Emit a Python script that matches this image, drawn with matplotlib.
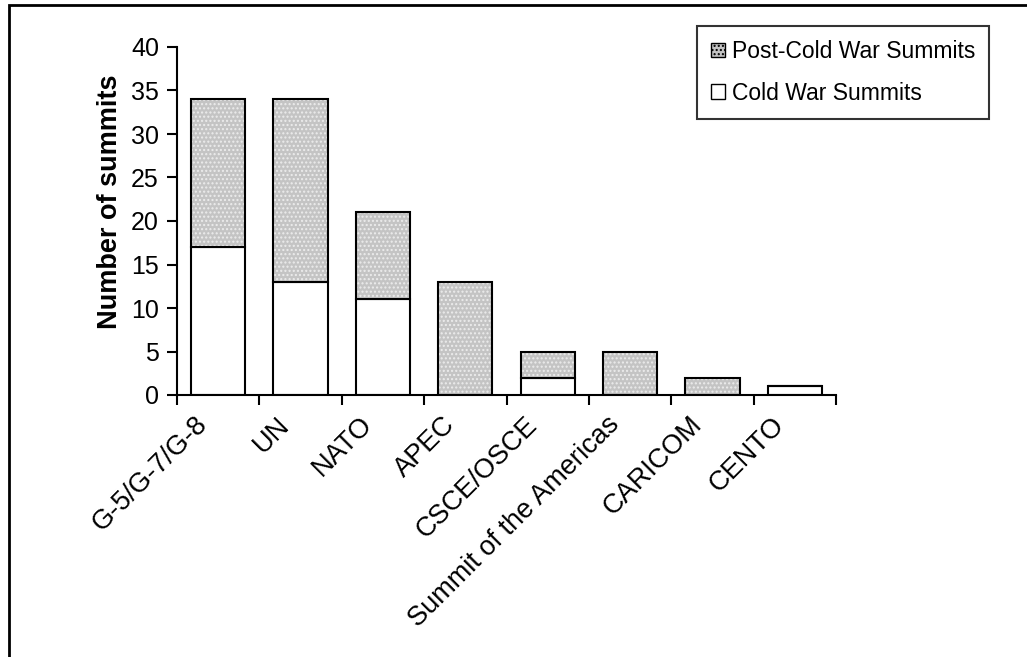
import matplotlib
matplotlib.use('Agg')
import matplotlib.pyplot as plt
import matplotlib.transforms as mtransforms
from matplotlib.patches import Rectangle
import numpy as np

categories = ['G-5/G-7/G-8', 'UN', 'NATO', 'APEC', 'CSCE/OSCE',
              'Summit of the Americas', 'CARICOM', 'CENTO']
cold_war = [17, 13, 11, 0, 2, 0, 0, 1]
post_cold_war = [17, 21, 10, 13, 3, 5, 2, 0]
yticks = [0, 5, 10, 15, 20, 25, 30, 35, 40]

def main():
    plt.rcParams['font.family'] = ['Liberation Sans', 'DejaVu Sans']
    fig = plt.figure(figsize=(10.27, 6.57), dpi=100)
    ax = fig.add_axes([177/1027, 1 - 395/657, (836 - 177)/1027, (395 - 47)/657])

    x = np.arange(len(categories))
    w = 0.66
    bottom = np.array(cold_war)

    ax.bar(x, cold_war, w, color='white', edgecolor='black', lw=1.5, zorder=2)
    ax.bar(x, post_cold_war, w, bottom=bottom, color='#c4c4c4',
           edgecolor='#ececec', hatch='....', lw=0, zorder=2)
    ax.bar(x, post_cold_war, w, bottom=bottom, fill=False,
           edgecolor='black', lw=1.5, zorder=3)

    # legend proxies
    p1 = Rectangle((0, 0), 1, 1, facecolor='#c4c4c4', edgecolor='black', hatch='....', lw=1)
    p2 = Rectangle((0, 0), 1, 1, facecolor='white', edgecolor='black', lw=1)
    leg = ax.legend([p1, p2], ['Post-Cold War Summits', 'Cold War Summits'],
                    loc='upper left', bbox_to_anchor=(697/1027, 1 - 26/657),
                    bbox_transform=fig.transFigure, fontsize=16.5,
                    frameon=True, fancybox=False, handlelength=0.6,
                    handleheight=0.6, handletextpad=0.3, borderpad=0.62,
                    labelspacing=0.8, borderaxespad=0)
    leg.get_frame().set_edgecolor('black')
    leg.get_frame().set_linewidth(1.5)

    ax.set_xlim(-0.5, len(categories) - 0.5)
    ax.set_ylim(0, 40)
    ax.set_yticks(yticks)
    ax.set_xticks(np.arange(len(categories) + 1) - 0.5)
    ax.set_xticklabels([])
    ax.set_xticks(x, minor=True)
    ax.set_xticklabels(categories, minor=True, rotation=45, ha='right',
                       rotation_mode='anchor', fontsize=19.5)
    ax.tick_params(axis='x', which='minor', length=0, pad=12)
    ax.tick_params(axis='x', which='major', direction='out', length=7, width=1.5)
    ax.tick_params(axis='y', direction='out', length=7, width=1.5, labelsize=18, pad=6)

    shift = mtransforms.ScaledTranslation(-17/72, 0, fig.dpi_scale_trans)
    for lab in ax.get_xticklabels(minor=True):
        lab.set_transform(lab.get_transform() + shift)

    for s in ['top', 'right']:
        ax.spines[s].set_visible(False)
    for s in ['left', 'bottom']:
        ax.spines[s].set_linewidth(1.5)

    ax.set_ylabel('Number of summits', fontsize=19.5, fontweight='bold')
    ax.yaxis.set_label_coords(-0.082, 0.555)

    # outer frame, only left and top edges visible
    fig.add_artist(Rectangle((9/1027, -0.2), 1.2, 1 - 5/657 + 0.2, fill=False,
                             lw=2, edgecolor='black', transform=fig.transFigure))

    plt.savefig('out.png', dpi=100)

if __name__ == '__main__':
    main()
